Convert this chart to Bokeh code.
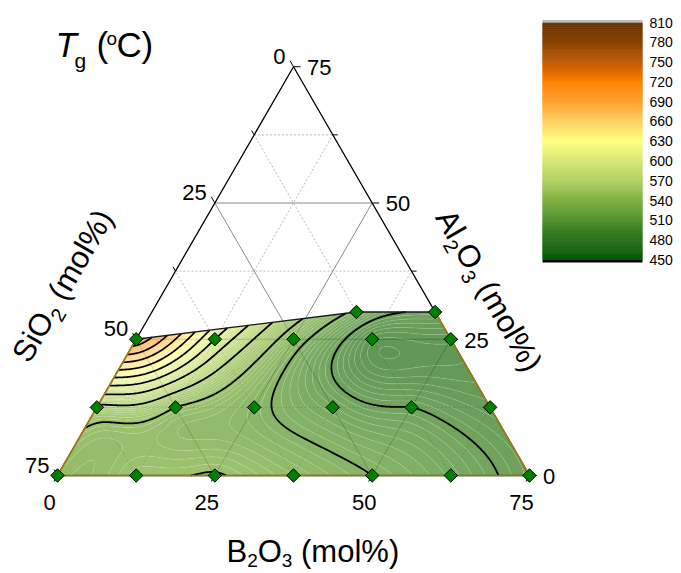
import numpy as np
from bokeh.plotting import figure
from bokeh.models import Range1d
from bokeh.core.properties import value
from bokeh.embed import file_html
from bokeh.resources import INLINE

# ---------------- data (mol%, Tg in degC) ----------------
b2o3 = [0, 12.5, 25, 37.5, 50, 62.5, 75,
        0, 12.5, 25, 37.5, 50, 62.5,
        0, 12.5, 25, 37.5, 50,
        32.5, 45]
al2o3 = [0, 0, 0, 0, 0, 0, 0,
         12.5, 12.5, 12.5, 12.5, 12.5, 12.5,
         25, 25, 25, 25, 25,
         30, 30]
tg = [532, 539, 541, 530, 520, 509, 494,
      556, 540, 524, 508, 500, 491,
      714, 600, 529, 486, 486,
      516, 499]
hull_idx = [0, 13, 18, 19, 6]          # outline of the measured region
major_ticks = [0, 25, 50, 75]
minor_ticks = [12.5, 37.5, 62.5]
cbar_ticks = [450, 480, 510, 540, 570, 600, 630, 660, 690, 720, 750, 780, 810]
cmap_vals = [450, 480, 510, 540, 570, 600, 630, 660, 690, 720, 750, 780, 810]
cmap_rgb = [(0, 90, 0), (40, 112, 24), (80, 144, 48), (128, 176, 64),
            (176, 208, 96), (216, 232, 120), (255, 255, 128), (255, 208, 96),
            (255, 160, 48), (255, 128, 0), (192, 90, 0), (138, 68, 0), (100, 50, 0)]

# ---------------- layout helpers ----------------
PH = 573.0
S = 472.0 / 75.0
X0, YB = 57.0, 475.0
R3 = np.sqrt(3) / 2
MID = 0.3465          # em-box middle above the baseline


def tern(b, a):
    b = np.asarray(b, float); a = np.asarray(a, float)
    return X0 + (b + a / 2) * S, YB - a * R3 * S      # page pixel coords


def dy(Y):
    return PH - np.asarray(Y, float)


def cmap(v):
    v = np.asarray(v, float)
    cols = np.array(cmap_rgb, float)
    return [np.interp(v, cmap_vals, cols[:, k]) for k in range(3)]


def hexcol(v):
    r, g, b = cmap(v)
    return "#%02x%02x%02x" % (int(round(float(r))), int(round(float(g))), int(round(float(b))))


p = figure(width=681, height=573, x_range=Range1d(0, 681), y_range=Range1d(0, 573),
           output_backend="svg", toolbar_location=None, min_border=0,
           x_axis_location=None, y_axis_location=None, outline_line_color=None)
p.xgrid.visible = False
p.ygrid.visible = False

FONT = "Liberation Sans"

# ---------------- grid lines ----------------
def comp_line(comp, v):
    if comp == "si":
        return tern([75 - v, 0], [0, 75 - v])
    if comp == "al":
        return tern([0, 75 - v], [v, v])
    return tern([v, v], [0, 75 - v])

for comp in ["si", "al", "b"]:
    for v in minor_ticks:
        X, Y = comp_line(comp, v)
        p.line(X, dy(Y), line_color="#b8b8b8", line_width=1, line_dash="2 2")
    for v in major_ticks[1:3]:
        X, Y = comp_line(comp, v)
        p.line(X, dy(Y), line_color="#8a8a8a", line_width=1)

# triangle outline
TX, TY = tern([0, 75, 0, 0], [0, 0, 75, 0])
p.line(TX, dy(TY), line_color="black", line_width=1.3)

# ---------------- interpolation (thin-plate spline) ----------------
pb = np.array(b2o3, float); pa = np.array(al2o3, float); pz = np.array(tg, float)
px = pb + pa / 2; py = pa * R3
n = len(px)
d = np.hypot(px[:, None] - px[None, :], py[:, None] - py[None, :])
K = np.where(d > 0, d ** 2 * np.log(np.where(d > 0, d, 1)), 0.0)
P = np.column_stack([np.ones(n), px, py])
A = np.zeros((n + 3, n + 3)); A[:n, :n] = K; A[:n, n:] = P; A[n:, :n] = P.T
sol = np.linalg.solve(A, np.concatenate([pz, np.zeros(3)]))
w, coef = sol[:n], sol[n:]

hu = pb[hull_idx] + pa[hull_idx] / 2; hv = pa[hull_idx]
order = np.argsort(hu)
nu, nv = 320, 110
u = np.linspace(0, 75, nu)
vt = np.interp(u, hu[order], hv[order])
t = np.linspace(0, 1, nv)
U = np.tile(u, (nv, 1)); V = t[:, None] * vt[None, :]
GX = U; GY = V * R3
dd = np.hypot(GX[..., None] - px, GY[..., None] - py)
phi = np.where(dd > 0, dd ** 2 * np.log(np.where(dd > 0, dd, 1)), 0.0)
Z = phi @ w + coef[0] + coef[1] * GX + coef[2] * GY
Z = np.clip(Z, 450.5, 809.5)
XP = X0 + U * S
YP = dy(YB - V * R3 * S)

levels = list(np.arange(450, 810.1, 2.5))
fill_cols = [hexcol((levels[i] + levels[i + 1]) / 2) for i in range(len(levels) - 1)]
major = [abs(lv / 20 - round(lv / 20)) < 1e-9 for lv in levels]
lc = ["black" if m else "white" for m in major]
lw = [1.8 if m else 0.5 for m in major]
la = [1.0 if m else 0.3 for m in major]
p.contour(XP, YP, Z, levels=levels, fill_color=fill_cols, fill_alpha=0.75,
          line_color=lc, line_width=lw, line_alpha=la)

# region boundary
HX, HY = tern(pb[hull_idx], pa[hull_idx])
p.line(HX[[1, 2, 3]], dy(HY[[1, 2, 3]]), line_color="#1a1a1a", line_width=1.3)
p.line(HX[[3, 4, 0, 1]], dy(HY[[3, 4, 0, 1]]), line_color="#a07814", line_width=1.6)

# ---------------- ticks & tick labels ----------------
def tick_seg(comp, v, L):
    if comp == "si":
        X, Y = tern(0, 75 - v); dx, dyy = -0.5, -R3
    elif comp == "al":
        X, Y = tern(75 - v, v); dx, dyy = 1.0, 0.0
    else:
        X, Y = tern(v, 0); dx, dyy = -0.5, R3
    return [float(X), float(X + dx * L)], [float(Y), float(Y + dyy * L)], float(X), float(Y)

for comp in ["si", "al", "b"]:
    for v in minor_ticks:
        xs, ys, _, _ = tick_seg(comp, v, 5)
        p.line(xs, dy(ys), line_color="black", line_width=1)
    for v in major_ticks:
        xs, ys, tx, ty = tick_seg(comp, v, 7)
        p.line(xs, dy(ys), line_color="black", line_width=1)
        lab = "%g" % v
        if comp == "si":
            p.text([tx - 8], [PH - (ty - 10.5)], text=[lab], text_align="right", text_baseline="middle",
                   text_font=value(FONT), text_font_size="22px", text_color="black")
        elif comp == "al":
            p.text([tx + 13.5], [PH - (ty + 1)], text=[lab], text_align="left", text_baseline="middle",
                   text_font=value(FONT), text_font_size="22px", text_color="black")
        else:
            p.text([tx - 8], [PH - (ty + 27)], text=[lab], text_align="center", text_baseline="middle",
                   text_font=value(FONT), text_font_size="22px", text_color="black")

# ---------------- data points ----------------
DX, DY = tern(pb, pa)
p.scatter(DX, dy(DY), marker="square", angle=np.pi / 4, size=9.5,
          fill_color="#008000", line_color="black", line_width=1)

# ---------------- axis titles ----------------
CW = {'S': .667, 'i': .222, 'O': .778, '(': .333, ')': .333, 'm': .833, 'o': .556, 'l': .222,
      '%': .889, ' ': .278, 'A': .667, 'B': .667, '2': .556, '3': .556, 'C': .722, 'T': .611, 'g': .556}


def put(txt, X, Y, size, ang=0.0, style="normal"):
    """X, Y: left end of the baseline in page pixels."""
    a = np.radians(ang)
    dn = (np.sin(a), np.cos(a))
    Xm = X - MID * size * dn[0]
    Ym = Y - MID * size * dn[1]
    p.text([Xm], [PH - Ym], text=[txt], angle=a, text_align="left", text_baseline="middle",
           text_font=value(FONT), text_font_size="%dpx" % size, text_color="black",
           text_font_style=style)


def draw_runs(runs, x0, y0, ang):
    a = np.radians(ang)
    dvec = (np.cos(a), -np.sin(a)); dn = (np.sin(a), np.cos(a))
    adv = 0.0
    for txt, size, off in runs:
        lead = len(txt) - len(txt.lstrip(" "))
        adv += lead * CW[' '] * size
        body = txt.lstrip(" ")
        X = x0 + adv * dvec[0] + off * dn[0]
        Y = y0 + adv * dvec[1] + off * dn[1]
        put(body, X, Y, size, ang)
        adv += sum(CW.get(c, .556) for c in body) * size

TS, SS = 31, 20
draw_runs([("SiO", TS, 0), ("2", SS, 7), (" (mol%)", TS, 0)], 29, 364, 60)
draw_runs([("Al", TS, 0), ("2", SS, 7), ("O", TS, 0), ("3", SS, 7), (" (mol%)", TS, 0)], 434, 217, -60)
draw_runs([("B", TS, 0), ("2", 19, 5), ("O", TS, 0), ("3", 19, 5), (" (mol%)", TS, 0)], 226, 562, 0)

# title  Tg (oC)
put("T", 55, 56, 35, style="italic")
put("g", 74, 67, 21)
put("(", 96, 56, 35)
put("o", 106, 45, 19)
put("C", 116, 56, 35)
put(")", 141, 56, 35)

# ---------------- colour bar ----------------
CB_L, CB_R, CB_TOP, CB_BOT = 542, 642, 22.0, 259.5
lo, hi = cbar_ticks[0], cbar_ticks[-1]


def cb_y(v):
    return CB_BOT - (np.asarray(v, float) - lo) / (hi - lo) * (CB_BOT - CB_TOP)

vals = np.arange(lo, hi, 1.0)
tops = dy(cb_y(vals + 1)) + 0.6
tops[-1] = PH - CB_TOP
p.quad(left=CB_L, right=CB_R, top=tops, bottom=dy(cb_y(vals)),
       fill_color=[hexcol(v + 0.5) for v in vals], line_color=None)
p.quad(left=[CB_L], right=[CB_R], top=[PH - 19.5], bottom=[PH - CB_TOP], fill_color="#bdbdbd", line_color=None)
p.quad(left=[CB_L], right=[CB_R], top=[PH - CB_BOT], bottom=[PH - 262], fill_color="black", line_color=None)
p.text([649] * len(cbar_ticks), list(dy(cb_y(cbar_ticks))), text=[str(v) for v in cbar_ticks],
       text_align="left", text_baseline="middle", text_font=value(FONT), text_font_size="14px",
       text_color="black")

open("out.html", "w").write(file_html(p, INLINE))
